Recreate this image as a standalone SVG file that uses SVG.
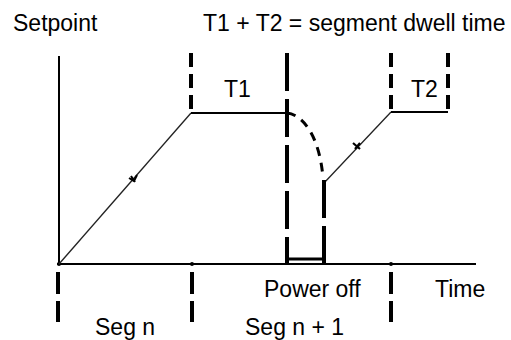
<svg xmlns="http://www.w3.org/2000/svg" width="511" height="340" viewBox="0 0 511 340">
<style>
.t{font-family:"Liberation Sans",Arial,sans-serif;font-size:23px;fill:#000}
.ax{stroke:#000;stroke-width:2;fill:none}
.thin{stroke:#222;stroke-width:1.3;fill:none}
.d1{stroke:#000;stroke-width:4;fill:none;stroke-dasharray:14 7}
.d2{stroke:#000;stroke-width:4;fill:none;stroke-dasharray:38 8}
.d3{stroke:#000;stroke-width:4;fill:none;stroke-dasharray:22 7}
</style>
<rect width="511" height="340" fill="#fff"/>
<g id="labels">
<text class="t" x="13" y="31">Setpoint</text>
<text class="t" x="203" y="31">T1 + T2 = segment dwell time</text>
<text class="t" x="224" y="97">T1</text>
<text class="t" x="411" y="97">T2</text>
<text class="t" x="264" y="297">Power off</text>
<text class="t" x="435" y="297">Time</text>
<text class="t" x="95" y="335">Seg n</text>
<text class="t" x="245" y="335">Seg n + 1</text>
</g>
<g id="axes">
<line class="ax" x1="59" y1="56" x2="59" y2="265"/>
<line class="ax" x1="57" y1="264" x2="476" y2="264"/>
<circle cx="59" cy="264" r="2"/>
<circle cx="192" cy="264" r="2"/>
<circle cx="391" cy="264" r="2"/>
</g>
<g id="connectors">
<path class="thin" d="M59,264 L191,113"/>
<path d="M129,178 L134,181 L137,175 M131,176 L135,182" stroke="#000" stroke-width="2" fill="none"/>
<line class="ax" x1="191" y1="113" x2="287" y2="113"/>
<path class="thin" d="M324,183 L391,112"/>
<path d="M353,143 L360,149 M355,149 L360,143" stroke="#000" stroke-width="2.2" fill="none"/>
<line class="ax" x1="391" y1="112" x2="448" y2="112"/>
<path d="M287,113 C305,115 320,140 323,178" stroke="#000" stroke-width="3" fill="none" stroke-dasharray="9 7"/>
</g>
<g id="markers">
<line class="d1" x1="191" y1="53" x2="191" y2="113"/>
<line class="d1" x1="391" y1="53" x2="391" y2="112"/>
<line class="d1" x1="448" y1="53" x2="448" y2="112"/>
<line class="d2" x1="287" y1="53" x2="287" y2="264"/>
<line class="d2" x1="324" y1="180" x2="324" y2="264"/>
<line x1="287" y1="259" x2="324" y2="259" stroke="#000" stroke-width="3"/>
<line class="d3" x1="58" y1="272" x2="58" y2="322"/>
<line class="d3" x1="192" y1="272" x2="192" y2="322"/>
<line class="d3" x1="391" y1="272" x2="391" y2="322"/>
</g>
</svg>
